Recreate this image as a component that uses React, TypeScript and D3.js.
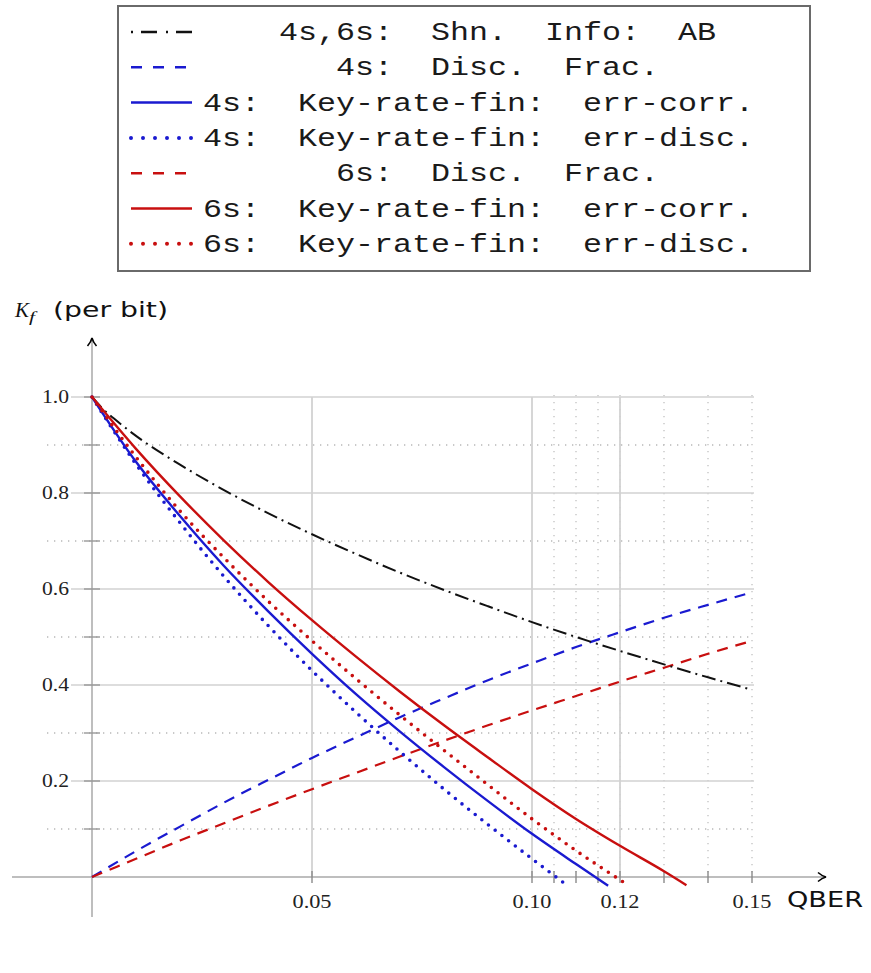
import React from "react";
import * as d3 from "d3";

// ---------- data ----------
const shannonQ = [0, 0.0025, 0.005, 0.01, 0.02, 0.03, 0.04, 0.05, 0.06, 0.07, 0.08, 0.09, 0.10, 0.11, 0.12, 0.13, 0.14, 0.15];
const shannonK = [1.0, 0.975, 0.955, 0.919, 0.859, 0.806, 0.758, 0.714, 0.673, 0.634, 0.598, 0.564, 0.531, 0.500, 0.471, 0.443, 0.416, 0.390];

const discQ = [0, 0.01, 0.02, 0.03, 0.04, 0.05, 0.06, 0.07, 0.08, 0.09, 0.10, 0.11, 0.12, 0.13, 0.14, 0.15];
const disc4K = [0, 0.054, 0.105, 0.155, 0.202, 0.248, 0.291, 0.333, 0.372, 0.410, 0.445, 0.479, 0.510, 0.540, 0.567, 0.593];
const disc6K = [0, 0.038, 0.076, 0.112, 0.148, 0.183, 0.217, 0.251, 0.284, 0.316, 0.347, 0.377, 0.407, 0.436, 0.465, 0.492];

const key4CorrQ = [0, 0.01, 0.02, 0.03, 0.04, 0.05, 0.06, 0.07, 0.08, 0.09, 0.10, 0.11, 0.1173];
const key4CorrK = [1.0, 0.865, 0.752, 0.648, 0.554, 0.465, 0.381, 0.303, 0.229, 0.158, 0.090, 0.027, -0.018];

const key4DiscQ = [0, 0.01, 0.02, 0.03, 0.04, 0.05, 0.06, 0.07, 0.08, 0.09, 0.10, 0.1075];
const key4DiscK = [1.0, 0.86, 0.738, 0.626, 0.524, 0.430, 0.343, 0.261, 0.183, 0.109, 0.038, -0.014];

const key6CorrQ = [0, 0.01, 0.02, 0.03, 0.04, 0.05, 0.06, 0.07, 0.08, 0.09, 0.10, 0.11, 0.12, 0.13, 0.1351];
const key6CorrK = [1.0, 0.892, 0.793, 0.701, 0.615, 0.535, 0.459, 0.386, 0.316, 0.249, 0.183, 0.121, 0.065, 0.012, -0.017];

const key6DiscQ = [0, 0.01, 0.02, 0.03, 0.04, 0.05, 0.06, 0.07, 0.08, 0.09, 0.10, 0.11, 0.12, 0.122];
const key6DiscK = [1.0, 0.875, 0.7625, 0.665, 0.575, 0.492, 0.413, 0.337, 0.264, 0.192, 0.121, 0.055, -0.006, -0.018];

const legendLabels = [
  "4s,6s:  Shn.  Info:  AB",
  "4s:  Disc.  Frac.",
  "4s:  Key-rate-fin:  err-corr.",
  "4s:  Key-rate-fin:  err-disc.",
  "6s:  Disc.  Frac.",
  "6s:  Key-rate-fin:  err-corr.",
  "6s:  Key-rate-fin:  err-disc.",
];

const xTickValues = [0.05, 0.10, 0.12, 0.15];
const xTickLabels = ["0.05", "0.10", "0.12", "0.15"];
const yTickValues = [0.2, 0.4, 0.6, 0.8, 1.0];
const yTickLabels = ["0.2", "0.4", "0.6", "0.8", "1.0"];
const ySolidGrid = [0.2, 0.4, 0.6, 0.8, 1.0];
const yDottedGrid = [0.1, 0.3, 0.5, 0.7, 0.9];
const xSolidGrid = [0.05, 0.10, 0.12];
const xDottedGrid = [0.105, 0.11, 0.115, 0.12, 0.13, 0.14, 0.15];

// ---------- styles ----------
const BLUE = "#1a1ad0";
const RED = "#c80f0f";
const BLACK = "#111";

type Style = { color: string; dash?: string; width: number; cap?: "round" | "butt" };
const sDashDot: Style = { color: BLACK, dash: "14 5 2 5", width: 2 };
const sDash4: Style = { color: BLUE, dash: "11 8", width: 2.2 };
const sSolid4: Style = { color: BLUE, width: 2.4 };
const sDot4: Style = { color: BLUE, dash: "0 8.5", width: 3.6, cap: "round" };
const sDash6: Style = { color: RED, dash: "11 8", width: 2.2 };
const sSolid6: Style = { color: RED, width: 2.4 };
const sDot6: Style = { color: RED, dash: "0 8.5", width: 3.6, cap: "round" };

const series = [
  { q: discQ, k: disc4K, s: sDash4 },
  { q: discQ, k: disc6K, s: sDash6 },
  { q: shannonQ, k: shannonK, s: sDashDot },
  { q: key4DiscQ, k: key4DiscK, s: sDot4 },
  { q: key4CorrQ, k: key4CorrK, s: sSolid4 },
  { q: key6DiscQ, k: key6DiscK, s: sDot6 },
  { q: key6CorrQ, k: key6CorrK, s: sSolid6 },
];

const legendStyles: Style[] = [
  { color: BLACK, dash: "2 8 16 9", width: 2.5 },
  { color: BLUE, dash: "11 11", width: 2.5 },
  { color: BLUE, width: 2.5 },
  { color: BLUE, dash: "0 12", width: 4, cap: "round" },
  { color: RED, dash: "11 11", width: 2.5 },
  { color: RED, width: 2.5 },
  { color: RED, dash: "0 12", width: 4, cap: "round" },
];
const legendTextX = [279, 336, 203, 203, 336, 203, 203];

export default function App() {
  const x = d3.scaleLinear().domain([0, 0.15]).range([92, 752]);
  const y = d3.scaleLinear().domain([0, 1]).range([877, 397]);
  const line = d3
    .line<[number, number]>()
    .x((d) => x(d[0]))
    .y((d) => y(d[1]))
    .curve(d3.curveMonotoneX);

  const gridColor = "#d2d2d2";
  const dotGrid = "1.3 5.7";
  const charW = 19;

  return (
    <svg
      width={871}
      height={973}
      style={{ position: "absolute", left: 0, top: 0, background: "#fff" }}
    >
      <rect x={0} y={0} width={871} height={973} fill="#fff" />

      {/* grid */}
      {yDottedGrid.map((v) => (
        <line key={"yd" + v} x1={47} x2={754} y1={y(v)} y2={y(v)} stroke="#b8b8b8" strokeWidth={1.3} strokeDasharray={dotGrid} />
      ))}
      {xDottedGrid.map((v) => (
        <line key={"xd" + v} x1={x(v)} x2={x(v)} y1={395} y2={877} stroke="#c0c0c0" strokeWidth={1.3} strokeDasharray={dotGrid} />
      ))}
      {ySolidGrid.map((v) => (
        <line key={"ys" + v} x1={71} x2={754} y1={y(v)} y2={y(v)} stroke={gridColor} strokeWidth={1.6} />
      ))}
      {xSolidGrid.map((v) => (
        <line key={"xs" + v} x1={x(v)} x2={x(v)} y1={397} y2={877} stroke={gridColor} strokeWidth={1.8} />
      ))}

      {/* axes */}
      <line x1={12} x2={824} y1={y(0)} y2={y(0)} stroke="#a8a8a8" strokeWidth={1.5} />
      <line x1={x(0)} x2={x(0)} y1={917} y2={340} stroke="#a8a8a8" strokeWidth={1.5} />
      <path d={`M ${x(0) - 4.5} 346 Q ${x(0) - 1} 342 ${x(0)} 338 Q ${x(0) + 1} 342 ${x(0) + 4.5} 346`} fill="none" stroke="#000" strokeWidth={1.6} />
      <path d={`M 818 ${y(0) - 4.5} Q 822 ${y(0) - 1} 826 ${y(0)} Q 822 ${y(0) + 1} 818 ${y(0) + 4.5}`} fill="none" stroke="#000" strokeWidth={1.6} />

      {/* ticks */}
      {[0.1, 0.2, 0.3, 0.4, 0.5, 0.6, 0.7, 0.8, 0.9, 1.0].map((v) => (
        <line key={"yt" + v} x1={84} x2={100} y1={y(v)} y2={y(v)} stroke="#999" strokeWidth={1.4} />
      ))}
      {[0.05, ...xDottedGrid, 0.10].map((v, i) => (
        <line key={"xt" + i} x1={x(v)} x2={x(v)} y1={871} y2={883} stroke="#8a8a8a" strokeWidth={1.4} />
      ))}

      {/* tick labels */}
      {xTickValues.map((v, i) => (
        <text key={"xl" + v} x={x(v) - 19.5} y={908} fontFamily="'Liberation Serif', serif" fontSize={18} fill="#222" textLength={39} lengthAdjust="spacingAndGlyphs">
          {xTickLabels[i]}
        </text>
      ))}
      {yTickValues.map((v, i) => (
        <text key={"yl" + v} x={42} y={y(v) + 6} fontFamily="'Liberation Serif', serif" fontSize={18} fill="#222" textLength={27} lengthAdjust="spacingAndGlyphs">
          {yTickLabels[i]}
        </text>
      ))}

      {/* curves */}
      {series.map((sr, i) => (
        <path
          key={"s" + i}
          d={line(sr.q.map((q, j) => [q, sr.k[j]] as [number, number])) || ""}
          fill="none"
          stroke={sr.s.color}
          strokeWidth={sr.s.width}
          strokeDasharray={sr.s.dash}
          strokeLinecap={sr.s.cap || "butt"}
        />
      ))}

      {/* axis labels */}
      <text x={15} y={317} fontFamily="'Liberation Serif', serif" fontStyle="italic" fontSize={20} fill="#111" textLength={14} lengthAdjust="spacingAndGlyphs">K</text>
      <text x={29} y={322} fontFamily="'Liberation Serif', serif" fontStyle="italic" fontSize={14} fill="#111" textLength={6} lengthAdjust="spacingAndGlyphs">f</text>
      <text x={53} y={317} fontFamily="'DejaVu Sans', sans-serif" fontSize={21} fill="#111" textLength={115} lengthAdjust="spacingAndGlyphs">(per bit)</text>
      <text x={787} y={907} fontFamily="'DejaVu Sans', sans-serif" fontSize={21} fill="#111" textLength={76} lengthAdjust="spacingAndGlyphs">QBER</text>

      {/* legend */}
      <rect x={118} y={6} width={692} height={265} fill="#fff" stroke="#6a6a6a" strokeWidth={2} />
      {legendLabels.map((lab, i) => {
        const ly = 32 + i * 35.3;
        const st = legendStyles[i];
        return (
          <g key={"lg" + i}>
            <line
              x1={131}
              x2={192}
              y1={ly}
              y2={ly}
              stroke={st.color}
              strokeWidth={st.width}
              strokeDasharray={st.dash}
              strokeLinecap={st.cap || "butt"}
            />
            <text
              x={legendTextX[i]}
              y={ly + 8}
              fontFamily="'Liberation Mono', monospace"
              fontSize={26}
              fill="#1a1a1a"
              xmlSpace="preserve"
              style={{ whiteSpace: "pre" }}
              textLength={charW * lab.length}
              lengthAdjust="spacingAndGlyphs"
            >
              {lab}
            </text>
          </g>
        );
      })}
    </svg>
  );
}
